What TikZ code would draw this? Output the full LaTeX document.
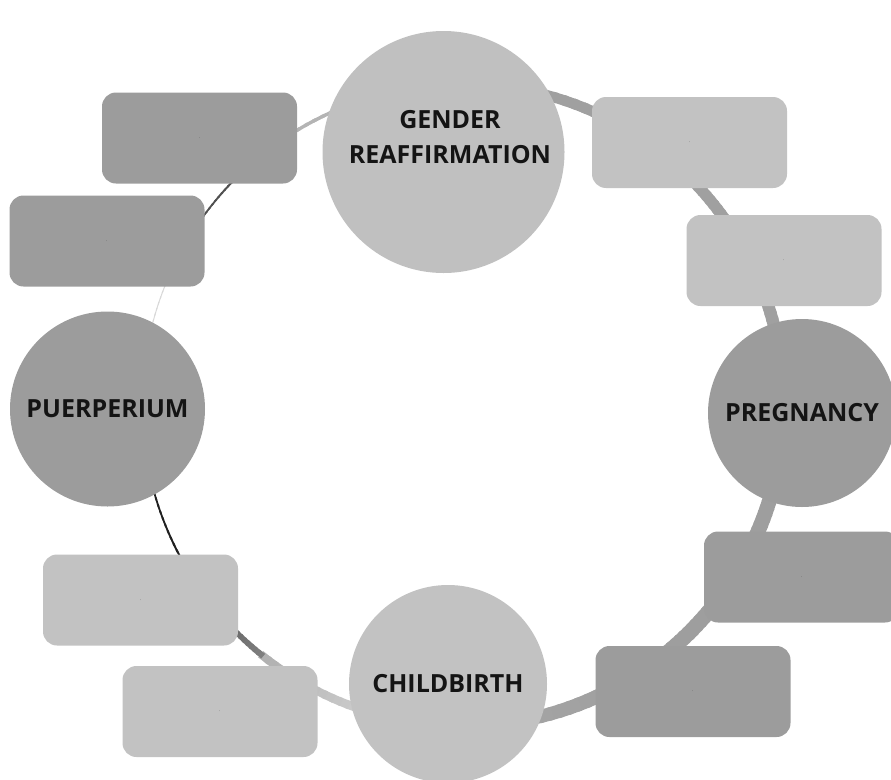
\documentclass[tikz,border=0pt]{standalone}
\usepackage{fontspec}
\setmainfont{Open Sans}
\definecolor{dk}{HTML}{9C9C9C}
\definecolor{lt}{HTML}{C2C2C2}
\definecolor{gc}{HTML}{C0C0C0}
\definecolor{rA}{HTML}{A0A0A0}
\definecolor{rB}{HTML}{9E9E9E}
\definecolor{rC}{HTML}{A6A6A6}
\definecolor{rD}{HTML}{E0E0E0}
\definecolor{rE}{HTML}{B0B0B0}
\definecolor{rF}{HTML}{808080}
\definecolor{rG}{HTML}{444444}
\definecolor{rH}{HTML}{202020}
\definecolor{rI}{HTML}{D8D8D8}
\definecolor{rJ}{HTML}{505050}
\definecolor{rK}{HTML}{B4B4B4}
\newcommand{\ringarc}[6]{%
 \foreach \k in {0,...,23}{%
  \pgfmathsetmacro{\angA}{#1+(#2-#1)*\k/24}%
  \pgfmathsetmacro{\angB}{#1+(#2-#1)*(\k+1.4)/24}%
  \pgfmathsetmacro{\segw}{#3+(#4-#3)*(\k+0.5)/24}%
  \pgfmathtruncatemacro{\segp}{100-100*(\k+0.5)/24}%
  \draw[line width=\segw pt, draw=#5!\segp!#6, shift={(463,405)}] (\angA:321) -- (\angB:321);
 }}
\begin{document}
\begin{tikzpicture}[x=1pt,y=-1pt,
  bigc/.style={circle, inner sep=0pt, font=\fontsize{25}{35}\selectfont\bfseries, align=center, text=black!92},
  label/.style={inner sep=0pt, font=\fontsize{25}{35}\selectfont\bfseries, align=center, text=black!92},
  box/.style={rounded corners=14pt, minimum width=195pt, minimum height=91pt, inner sep=0pt, font=\fontsize{4}{4}\selectfont, text=black!80}]
\useasboundingbox (0,0) rectangle (891,779);
\clip (0,0) rectangle (891,779);
% ring
\ringarc{-94.5}{-49.2}{10}{11}{rA}{rA}
\ringarc{-49.2}{-24.3}{11}{12}{rA}{rA}
\ringarc{-24.3}{1.4}{12}{13}{rA}{rA}
\ringarc{1.4}{27}{14}{15}{rB}{rB}
\ringarc{27}{51.2}{15}{15}{rB}{rB}
\ringarc{51.2}{93}{15}{12}{rB}{rC}
\ringarc{93}{128.5}{9}{8}{rD}{rE}
\ringarc{128.5}{149}{6}{4}{rF}{rG}
\ringarc{149}{179}{2}{1.5}{rH}{rH}
\ringarc{179}{204.7}{1}{1}{rI}{rI}
\ringarc{204.7}{225.4}{1.5}{2}{rJ}{rJ}
\ringarc{225.4}{265.5}{3}{4}{rK}{rK}
% boxes
\node[box, fill=dk] (l1) at (199.5,138) {.};
\node[box, fill=dk] (l2) at (107,241) {.};
\node[box, fill=lt] (tr1) at (689.5,142.5) {.};
\node[box, fill=lt] (tr2) at (784,260.5) {.};
\node[box, fill=dk] (br1) at (801.5,577) {.};
\node[box, fill=dk] (br2) at (693,691.5) {.};
\node[box, fill=lt] (bl1) at (140.5,600) {.};
\node[box, fill=lt] (bl2) at (220,711.5) {.};
% circles
\node[bigc, fill=gc, minimum size=242pt] (gender) at (443.5,152) {};
\node[label] (gendertxt) at (450,137) {GENDER\\REAFFIRMATION};
\node[bigc, fill=dk, minimum size=188pt] (preg) at (802,413) {PREGNANCY};
\node[bigc, fill=lt, minimum size=198pt] (child) at (448,684) {CHILDBIRTH};
\node[bigc, fill=dk, minimum size=195pt] (puer) at (107.5,409) {PUERPERIUM};
\end{tikzpicture}
\end{document}
